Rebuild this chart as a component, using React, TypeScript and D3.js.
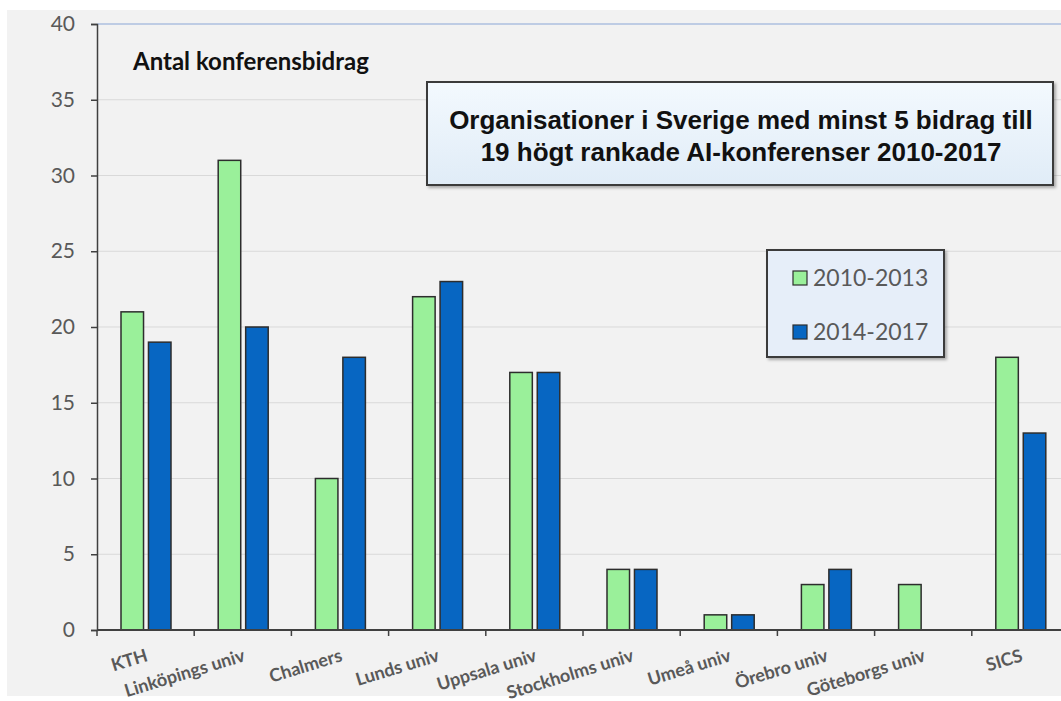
import { useEffect, useRef } from 'react';
import * as d3 from 'd3';

const categories = [
	'KTH',
	'Linköpings univ',
	'Chalmers',
	'Lunds univ',
	'Uppsala univ',
	'Stockholms univ',
	'Umeå univ',
	'Örebro univ',
	'Göteborgs univ',
	'SICS',
];
const series = ['2010-2013', '2014-2017'];
const values2010 = [21, 31, 10, 22, 17, 4, 1, 3, 3, 18];
const values2014 = [19, 20, 18, 23, 17, 4, 1, 4, 0, 13];
const yTicks = [0, 5, 10, 15, 20, 25, 30, 35, 40];
const colors = ['#9af09a', '#0766c2'];
const titleLines = [
	'Organisationer i Sverige med minst 5 bidrag till',
	'19 högt rankade AI-konferenser 2010-2017',
];

const App = () => {
	const ref = useRef<SVGSVGElement>(null);

	useEffect(() => {
		const W = 1061,
			H = 701;
		const left = 97,
			top = 24,
			bottom = 630,
			band = 97.2;

		const svg = d3.select(ref.current).attr('width', W).attr('height', H);
		svg.selectAll('*').remove();

		const defs = svg.append('defs');
		const grad = defs
			.append('linearGradient')
			.attr('id', 'titlegrad')
			.attr('x1', 0)
			.attr('y1', 0)
			.attr('x2', 0)
			.attr('y2', 1);
		grad.append('stop').attr('offset', '0%').attr('stop-color', '#f3f9fe');
		grad.append('stop').attr('offset', '100%').attr('stop-color', '#e0ecf7');
		defs
			.append('filter')
			.attr('id', 'shadow')
			.attr('x', '-5%')
			.attr('y', '-10%')
			.attr('width', '115%')
			.attr('height', '130%')
			.append('feDropShadow')
			.attr('dx', 2)
			.attr('dy', 2)
			.attr('stdDeviation', 1.5)
			.attr('flood-color', '#000')
			.attr('flood-opacity', 0.3);

		// background
		svg.append('rect').attr('width', W).attr('height', H).attr('fill', '#ffffff');
		svg
			.append('rect')
			.attr('x', 7)
			.attr('y', 10)
			.attr('width', W - 7)
			.attr('height', 686)
			.attr('fill', '#f2f2f2');

		const x0 = d3
			.scaleBand()
			.domain(categories)
			.range([left, left + band * categories.length]);
		const x1 = d3.scaleBand().domain(series).range([24, 74]).paddingInner(0.18);
		const y = d3.scaleLinear().domain([0, 40]).range([bottom, top]);

		// gridlines
		svg
			.append('g')
			.selectAll('line')
			.data(yTicks.filter((t) => t > 0 && t < 40))
			.join('line')
			.attr('x1', left)
			.attr('x2', W)
			.attr('y1', (d) => y(d))
			.attr('y2', (d) => y(d))
			.attr('stroke', '#d9d9d9')
			.attr('stroke-width', 1);
		svg
			.append('line')
			.attr('x1', left)
			.attr('x2', W)
			.attr('y1', y(40))
			.attr('y2', y(40))
			.attr('stroke', '#8aa6d6')
			.attr('stroke-width', 1.2);

		// y axis
		const yAxis = svg
			.append('g')
			.attr('transform', `translate(${left},0)`)
			.call(d3.axisLeft(y).tickValues(yTicks).tickSize(6).tickPadding(16));
		yAxis.select('.domain').attr('stroke', '#404040').attr('stroke-width', 1.5);
		yAxis.selectAll('.tick line').attr('stroke', '#404040').attr('stroke-width', 1.5);
		yAxis
			.selectAll('.tick text')
			.attr('fill', '#595959')
			.style('font-family', 'Lato, sans-serif')
			.style('font-size', '21px');

		// bars
		const rows = categories.map((c, i) => ({ c, vals: [values2010[i], values2014[i]] }));
		const groups = svg
			.append('g')
			.selectAll('g')
			.data(rows)
			.join('g')
			.attr('transform', (d) => `translate(${x0(d.c)},0)`);
		groups
			.selectAll('rect')
			.data((d) => d.vals.map((v, k) => ({ v, k })).filter((e) => e.v > 0))
			.join('rect')
			.attr('x', (d) => x1(series[d.k]) as number)
			.attr('width', x1.bandwidth())
			.attr('y', (d) => y(d.v))
			.attr('height', (d) => y(0) - y(d.v))
			.attr('fill', (d) => colors[d.k])
			.attr('stroke', '#2d2d2d')
			.attr('stroke-width', 1.5);

		// x axis
		svg
			.append('line')
			.attr('x1', left)
			.attr('x2', W)
			.attr('y1', bottom)
			.attr('y2', bottom)
			.attr('stroke', '#404040')
			.attr('stroke-width', 1.8);
		svg
			.append('g')
			.selectAll('line')
			.data(d3.range(categories.length + 1))
			.join('line')
			.attr('x1', (i) => left + i * band)
			.attr('x2', (i) => left + i * band)
			.attr('y1', bottom)
			.attr('y2', bottom + 6)
			.attr('stroke', '#404040')
			.attr('stroke-width', 1.5);
		svg
			.append('g')
			.selectAll('text')
			.data(categories)
			.join('text')
			.attr(
				'transform',
				(d) => `translate(${(x0(d) as number) + band / 2 - 1},647) rotate(-17)`
			)
			.attr('text-anchor', 'end')
			.attr('dominant-baseline', 'hanging')
			.attr('fill', '#595959')
			.style('font-family', 'Lato, sans-serif')
			.style('font-weight', 'bold')
			.style('font-size', '18px')
			.text((d) => d);

		// axis title
		svg
			.append('text')
			.attr('x', 133)
			.attr('y', 70)
			.attr('fill', '#111')
			.style('font-family', 'Lato, sans-serif')
			.style('font-weight', 'bold')
			.style('font-size', '24px')
			.text('Antal konferensbidrag');

		// title box
		svg
			.append('rect')
			.attr('x', 427)
			.attr('y', 82)
			.attr('width', 626)
			.attr('height', 103)
			.attr('fill', 'url(#titlegrad)')
			.attr('stroke', '#3a3a3a')
			.attr('stroke-width', 2)
			.attr('filter', 'url(#shadow)');
		svg
			.append('g')
			.selectAll('text')
			.data(titleLines)
			.join('text')
			.attr('x', 741)
			.attr('y', (d, i) => 129 + i * 32)
			.attr('text-anchor', 'middle')
			.attr('fill', '#111')
			.style('font-family', '"Liberation Sans", Arial, sans-serif')
			.style('font-weight', 'bold')
			.style('font-size', '26px')
			.text((d) => d);

		// legend
		svg
			.append('rect')
			.attr('x', 767)
			.attr('y', 250)
			.attr('width', 177)
			.attr('height', 107)
			.attr('fill', '#e6eef9')
			.attr('stroke', '#3a3a3a')
			.attr('stroke-width', 2)
			.attr('filter', 'url(#shadow)');
		const leg = svg
			.append('g')
			.selectAll('g')
			.data(series)
			.join('g')
			.attr('transform', (d, i) => `translate(793,${271 + i * 54})`);
		leg
			.append('rect')
			.attr('width', 14)
			.attr('height', 14)
			.attr('fill', (d, i) => colors[i])
			.attr('stroke', '#2d2d2d')
			.attr('stroke-width', 1.2);
		leg
			.append('text')
			.attr('x', 20)
			.attr('y', 15)
			.attr('fill', '#595959')
			.style('font-family', 'Lato, sans-serif')
			.style('font-size', '23px')
			.text((d) => d);
	}, []);

	return (
		<svg
			ref={ref}
			style={{ position: 'absolute', left: 0, top: 0, display: 'block' }}
		/>
	);
};

export default App;
